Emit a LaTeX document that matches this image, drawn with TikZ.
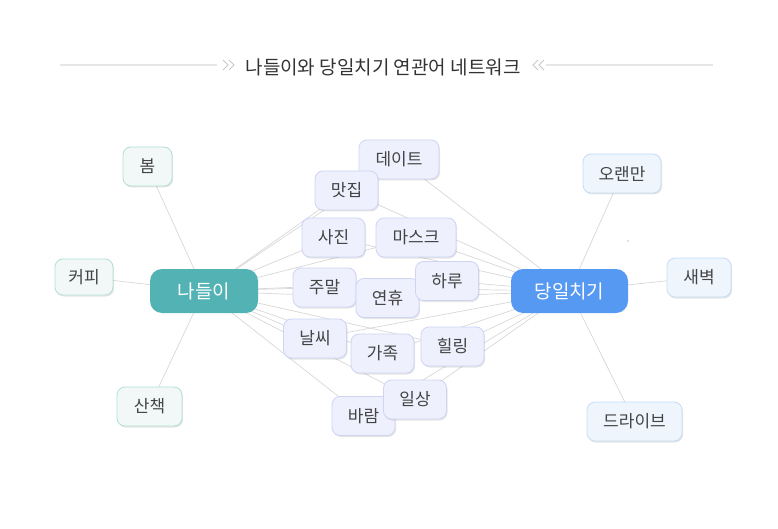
\documentclass[tikz,border=0pt]{standalone}
\usepackage{fontspec}
\setmainfont{Noto Sans CJK KR}
\usetikzlibrary{shadows,backgrounds}
\definecolor{txt}{HTML}{444444}
\definecolor{ttl}{HTML}{333333}
\definecolor{edgec}{HTML}{D8D8D8}
\definecolor{tealc}{HTML}{53B3B4}
\definecolor{bluec}{HTML}{5699F2}
\definecolor{tlfill}{HTML}{F1F8F7}
\definecolor{tlbord}{HTML}{B3DFD6}
\definecolor{blfill}{HTML}{EEF5FD}
\definecolor{blbord}{HTML}{C6DCF3}
\definecolor{shfill}{HTML}{EEF0FD}
\definecolor{shbord}{HTML}{CED4F4}
\definecolor{rulec}{HTML}{E6E6E6}
\definecolor{chev}{HTML}{C8C8C8}
\tikzset{
  base/.style={rounded corners=8pt, inner sep=0pt, minimum height=39pt, font=\fontsize{17pt}{19pt}\selectfont, text=txt, line width=0.8pt,
    drop shadow={shadow xshift=1pt, shadow yshift=-1.5pt, opacity=0.10, fill=black}},
  tleaf/.style={base, fill=tlfill, draw=tlbord},
  bleaf/.style={base, fill=blfill, draw=blbord},
  shared/.style={base, fill=shfill, draw=shbord, minimum width=63pt},
  hub/.style={rounded corners=12pt, inner sep=0pt, minimum height=44pt, font=\fontsize{19pt}{21pt}\selectfont, text=white},
  link/.style={draw=edgec, line width=0.7pt},
  rule/.style={draw=rulec, line width=1.2pt},
  chevron/.style={draw=chev, line width=0.8pt}
}
\begin{document}
\begin{tikzpicture}[x=1pt,y=-1pt]
\begin{scope}[on background layer]
\fill[white] (0,0) rectangle (778,529);
\end{scope}
\useasboundingbox (0,0) rectangle (778,529);
% title
\node[font=\fontsize{19pt}{22pt}\selectfont, text=ttl] (title) at (383,67) {나들이와 당일치기 연관어 네트워크};
\coordinate (ll) at (60,65); \coordinate (lr) at (217,65);
\coordinate (rl) at (546,65); \coordinate (rr) at (713,65);
\draw[rule] (ll) -- (lr);
\draw[rule] (rl) -- (rr);
\draw[chevron] (223,60) -- (228,65) -- (223,70) (229,60) -- (234,65) -- (229,70);
\draw[chevron] (538,60) -- (533,65) -- (538,70) (544,60) -- (539,65) -- (544,70);
% hubs
\node[hub, fill=tealc, minimum width=108pt] (nad) at (204,291) {나들이};
\node[hub, fill=bluec, minimum width=117pt] (dang) at (569.5,291) {당일치기};
% left leaves
\node[tleaf, minimum width=49pt] (bom) at (147.5,166.5) {봄};
\node[tleaf, minimum width=58pt, minimum height=36pt] (keopi) at (84,277) {커피};
\node[tleaf, minimum width=65pt] (sanchaek) at (149.5,406.5) {산책};
% right leaves
\node[bleaf, minimum width=78pt] (oraen) at (622,173.5) {오랜만};
\node[bleaf, minimum width=64pt] (saebyeok) at (699,277.5) {새벽};
\node[bleaf, minimum width=95pt] (drive) at (634.5,421.5) {드라이브};
% shared
\node[shared, minimum width=80pt] (date) at (399,159.5) {데이트};
\node[shared] (matjip) at (346.5,190.5) {맛집};
\node[shared] (sajin) at (333.5,237.5) {사진};
\node[shared, minimum width=80pt] (mask) at (416,237.5) {마스크};
\node[shared] (jumal) at (324.5,287.5) {주말};
\node[shared] (yeonhyu) at (387.5,298) {연휴};
\node[shared] (haru) at (447,281) {하루};
\node[shared] (nalssi) at (315,338.5) {날씨};
\node[shared] (gajok) at (382.5,353.5) {가족};
\node[shared] (healing) at (452.5,346.5) {힐링};
\node[shared] (baram) at (363.5,416) {바람};
\node[shared] (ilsang) at (415,399.5) {일상};
% stray dot
\fill[gray] (628,241) circle (0.7pt);
% edges
\begin{scope}[on background layer]
\foreach \n in {bom,keopi,sanchaek,date,matjip,sajin,mask,jumal,yeonhyu,haru,nalssi,gajok,healing,baram,ilsang}
  \draw[link] (nad.center) -- (\n.center);
\foreach \n in {oraen,saebyeok,drive,date,matjip,sajin,mask,jumal,yeonhyu,haru,nalssi,gajok,healing,baram,ilsang}
  \draw[link] (dang.center) -- (\n.center);
\end{scope}
\end{tikzpicture}
\end{document}
